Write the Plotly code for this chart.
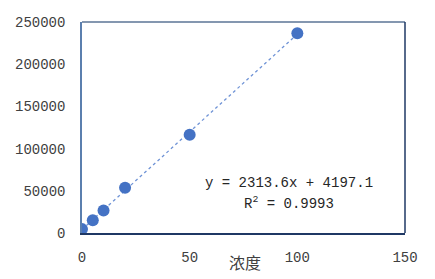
import plotly.graph_objects as go

conc = [0, 5, 10, 20, 50, 100]
signal = [4600, 15200, 26600, 53500, 116500, 236800]
slope = 2313.6
intercept = 4197.1
r2 = 0.9993

x_ticks = [0, 50, 100, 150]
y_ticks = [0, 50000, 100000, 150000, 200000, 250000]
y_labels = [str(v) for v in y_ticks]
x_title = "浓度"

fit_x = [conc[0], conc[-1]]
fit_y = [slope * v + intercept for v in fit_x]

font_mono = "Liberation Mono, DejaVu Sans Mono, monospace"

fig = go.Figure()
fig.add_trace(go.Scatter(x=fit_x, y=fit_y, mode="lines",
                         line=dict(color="#6F93D6", width=1.3, dash="dot"),
                         hoverinfo="skip", showlegend=False))
fig.add_trace(go.Scatter(x=conc, y=signal, mode="markers",
                         marker=dict(color="#4472C4", size=12),
                         showlegend=False))

fig.update_layout(
    width=435, height=279,
    margin=dict(l=82, r=30, t=22, b=46),
    plot_bgcolor="white", paper_bgcolor="white",
    font=dict(family=font_mono, size=14, color="#404040"),
    xaxis=dict(range=[0, 150], tickvals=x_ticks, ticks="", showgrid=False,
               zeroline=False, showline=True, linecolor="#1F3864", linewidth=1.5,
               automargin=False, ticklabelstandoff=10),
    yaxis=dict(range=[0, 250000], tickvals=y_ticks, ticktext=y_labels, ticks="",
               showgrid=False, zeroline=False, showline=True, linecolor="#5B7FAE",
               linewidth=1.5, ticklabelstandoff=12, automargin=False),
    shapes=[
        dict(type="line", xref="paper", yref="paper", x0=0, x1=1, y0=1, y1=1,
             line=dict(color="#8497B0", width=2)),
        dict(type="line", xref="paper", yref="paper", x0=1, x1=1, y0=0, y1=1,
             line=dict(color="#1F3864", width=1.5)),
    ],
    annotations=[
        dict(xref="paper", yref="paper", x=0.505, y=-0.137, yanchor="middle",
             text=x_title, showarrow=False,
             font=dict(family="Noto Sans CJK SC", size=16, color="#404040")),
        dict(xref="paper", yref="paper", x=0.64, y=0.189,
             text=f"y = {slope}x + {intercept}", showarrow=False,
             font=dict(family=font_mono, size=14, color="#262626")),
        dict(xref="paper", yref="paper", x=0.64, y=0.089,
             text=f"R<sup>2</sup> = {r2}", showarrow=False,
             font=dict(family=font_mono, size=14, color="#262626")),
    ],
)

fig.write_html("out.html")
